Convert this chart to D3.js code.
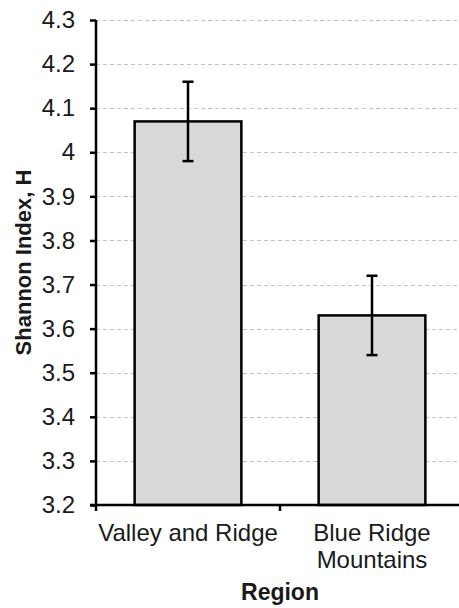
<!DOCTYPE html>
<html>
<head>
<meta charset="utf-8">
<script src="https://cdn.jsdelivr.net/npm/d3@7"></script>
<style>
  html, body { margin: 0; padding: 0; background: #fff; }
  svg { display: block; }
  text { font-family: "Liberation Sans", Arial, sans-serif; fill: #1a1a1a; }
</style>
</head>
<body>
<svg id="chart" width="459" height="608"></svg>
<script>
const categories = ["Valley and Ridge", "Blue Ridge Mountains"];
const categoryLines = [["Valley and Ridge"], ["Blue Ridge", "Mountains"]];
const values = [4.07, 3.63];
const errors = [0.09, 0.09];
const yTicks = [3.2, 3.3, 3.4, 3.5, 3.6, 3.7, 3.8, 3.9, 4.0, 4.1, 4.2, 4.3];
const yTickLabels = ["3.2", "3.3", "3.4", "3.5", "3.6", "3.7", "3.8", "3.9", "4", "4.1", "4.2", "4.3"];
const yTitle = "Shannon Index, H";
const xTitle = "Region";

const svg = d3.select("#chart");
const m = { left: 96, right: 464, top: 20, bottom: 505 };

const x = d3.scaleBand().domain(categories).range([m.left, m.right]).paddingInner(0.42).paddingOuter(0.21);
const y = d3.scaleLinear().domain([3.2, 4.3]).range([m.bottom, m.top]);

// gridlines
svg.append("g").selectAll("line").data(yTicks.slice(1)).join("line")
  .attr("x1", m.left).attr("x2", 459)
  .attr("y1", d => Math.round(y(d)) + 0.5).attr("y2", d => Math.round(y(d)) + 0.5)
  .attr("stroke", "#c4c4c4").attr("stroke-width", 1).attr("stroke-dasharray", "4,3");

// bars
svg.append("g").selectAll("rect").data(values).join("rect")
  .attr("x", (d, i) => x(categories[i]))
  .attr("y", d => y(d))
  .attr("width", x.bandwidth())
  .attr("height", d => y(3.2) - y(d))
  .attr("fill", "#d9d9d9").attr("stroke", "#000").attr("stroke-width", 2.5);

// error bars
const eb = svg.append("g").attr("stroke", "#000").attr("stroke-width", 2.5);
values.forEach((v, i) => {
  const cx = x(categories[i]) + x.bandwidth() / 2;
  eb.append("line").attr("x1", cx).attr("x2", cx).attr("y1", y(v + errors[i])).attr("y2", y(v - errors[i]));
  eb.append("line").attr("x1", cx - 5.5).attr("x2", cx + 5.5).attr("y1", y(v + errors[i])).attr("y2", y(v + errors[i]));
  eb.append("line").attr("x1", cx - 5.5).attr("x2", cx + 5.5).attr("y1", y(v - errors[i])).attr("y2", y(v - errors[i]));
});

// y axis
const yAxis = d3.axisLeft(y).tickValues(yTicks).tickFormat((d, i) => yTickLabels[i]).tickSize(6).tickPadding(15);
const gy = svg.append("g").attr("transform", `translate(${m.left},0)`).call(yAxis);
gy.select(".domain").attr("stroke", "#000").attr("stroke-width", 2.5).attr("d", `M0,${m.top}V${m.bottom}`);
gy.selectAll(".tick line").attr("stroke", "#000").attr("stroke-width", 2.5);
gy.selectAll(".tick text").attr("font-size", 24).attr("font-family", "Liberation Sans, Arial, sans-serif").attr("fill", "#1a1a1a");

// x axis
const step = (m.right - m.left) / categories.length;
const gx = svg.append("g");
gx.append("line").attr("x1", m.left - 6).attr("x2", 459).attr("y1", m.bottom).attr("y2", m.bottom)
  .attr("stroke", "#000").attr("stroke-width", 2.5);
[0, 1, 2].forEach(k => {
  gx.append("line").attr("x1", m.left + k * step).attr("x2", m.left + k * step)
    .attr("y1", m.bottom).attr("y2", m.bottom + 6).attr("stroke", "#000").attr("stroke-width", 2.5);
});
categories.forEach((c, i) => {
  const cx = x(c) + x.bandwidth() / 2;
  const t = gx.append("text").attr("text-anchor", "middle").attr("font-size", 24);
  categoryLines[i].forEach((ln, j) => {
    t.append("tspan").attr("x", cx).attr("y", 541 + j * 27).text(ln);
  });
});

// titles
svg.append("text").attr("x", 280).attr("y", 600).attr("text-anchor", "middle")
  .attr("font-size", 23).attr("font-weight", "bold").text(xTitle);
svg.append("text").attr("transform", `translate(31,${(m.top + m.bottom) / 2}) rotate(-90)`)
  .attr("text-anchor", "middle").attr("font-size", 22).attr("font-weight", "bold").text(yTitle);
</script>
</body>
</html>
